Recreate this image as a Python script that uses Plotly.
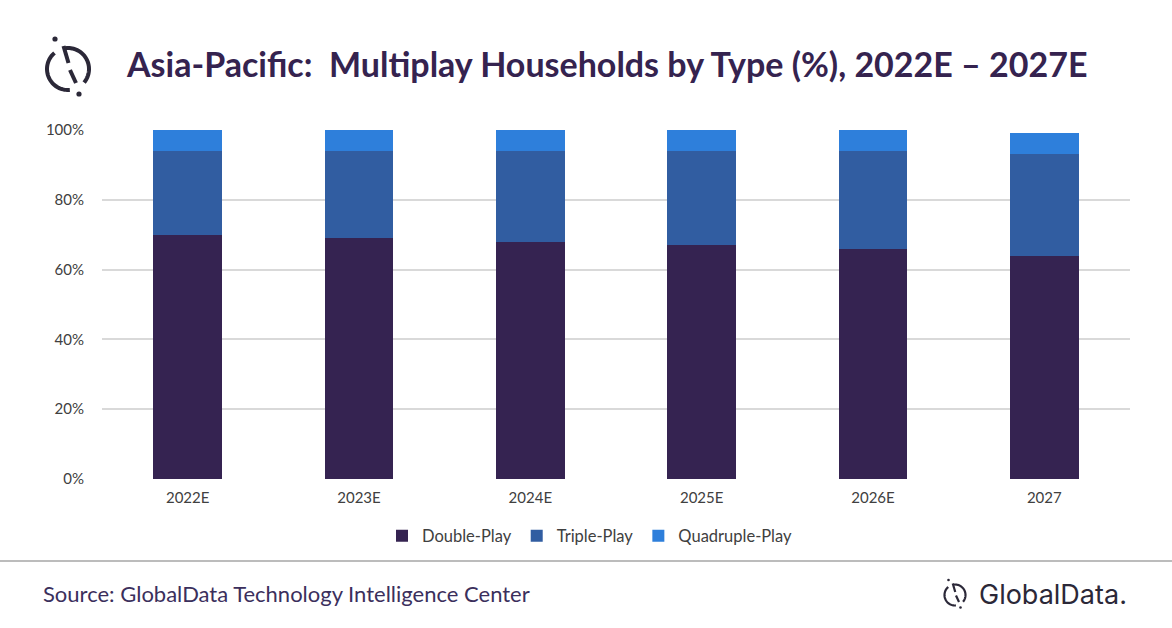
import numpy as np
import plotly.graph_objects as go

years = ["2022E", "2023E", "2024E", "2025E", "2026E", "2027"]
double_play = [70, 69, 68, 67, 66, 64]
triple_play = [24, 25, 26, 27, 28, 29]
quadruple_play = [6, 6, 6, 6, 6, 6]

W, H = 1172, 628
L, R, T, B = 102, 42, 130, 149
PW, PH = W - L - R, H - T - B


def px(x):
    return (x - L) / PW


def py(y):
    return (H - B - y) / PH


def poly(points):
    return "M " + " L ".join(f"{px(x):.5f},{py(y):.5f}" for x, y in points)


def arc(cx, cy, r, a0, a1, n=40):
    t = np.radians(np.linspace(a0, a1, n))
    return [(cx + r * np.cos(a), cy - r * np.sin(a)) for a in t]


def logo_shapes(cx, cy, s, lw, color):
    # GlobalData mark: broken ring, two inner strokes, two dots
    r = 21 * s
    parts = [
        arc(cx, cy, r, 100, -40),
        [(cx - 4.5 * s, cy - 23 * s), (cx + 0.5 * s, cy - 6 * s)],
        arc(cx, cy, r, 130, 275),
        [(cx + 2 * s, cy + 1 * s), (cx + 8 * s, cy + 14 * s)],
    ]
    shp = []
    for p in parts:
        shp.append(dict(type="path", xref="paper", yref="paper", path=poly(p),
                        line=dict(color=color, width=lw)))
    for dx, dy in [(-13 * s, -30 * s), (11 * s, 25 * s)]:
        d = 2.6 * s
        shp.append(dict(type="circle", xref="paper", yref="paper",
                        x0=px(cx + dx - d), x1=px(cx + dx + d),
                        y0=py(cy + dy + d), y1=py(cy + dy - d),
                        fillcolor=color, line=dict(width=0)))
    return shp


fig = go.Figure()
fig.add_bar(x=years, y=double_play, name="Double-Play", marker_color="#352351")
fig.add_bar(x=years, y=triple_play, name="Triple-Play", marker_color="#315DA1")
fig.add_bar(x=years, y=quadruple_play, name="Quadruple-Play", marker_color="#2E7FDB")
fig.update_traces(marker_line_width=0)

shapes = []
shapes += logo_shapes(68, 69, 1.0, 4, "#2B2838")
shapes += logo_shapes(955, 595, 0.5, 2.2, "#2B2838")
shapes.append(dict(type="line", xref="paper", yref="paper",
                   x0=px(0), x1=px(W), y0=py(561), y1=py(561),
                   line=dict(color="#A6A6A6", width=1.5)))

fig.update_layout(
    width=W, height=H,
    margin=dict(l=L, r=R, t=T, b=B),
    paper_bgcolor="#ffffff",
    plot_bgcolor="#ffffff",
    font=dict(family="Lato", size=15, color="#404040"),
    barmode="stack",
    bargap=0.6,
    showlegend=True,
    legend=dict(orientation="h", x=px(590), xanchor="center", y=py(536), yanchor="middle",
                font=dict(size=16.5, color="#404040"), traceorder="normal"),
    shapes=shapes,
    annotations=[
        dict(text="<b>Asia-Pacific:  Multiplay Households by Type (%), 2022E – 2027E</b>",
             xref="paper", yref="paper", x=px(124), y=py(64), xanchor="left", yanchor="middle",
             showarrow=False, font=dict(family="Lato", size=34, color="#35234F")),
        dict(text="Source: GlobalData Technology Intelligence Center",
             xref="paper", yref="paper", x=px(41), y=py(593), xanchor="left", yanchor="middle",
             showarrow=False, font=dict(family="Lato", size=22, color="#3B2F5C")),
        dict(text="GlobalData.",
             xref="paper", yref="paper", x=px(977), y=py(594), xanchor="left", yanchor="middle",
             showarrow=False, font=dict(family="Inter", size=27, color="#2B2838")),
    ],
)
fig.update_xaxes(showgrid=False, showline=False, ticks="outside", ticklen=5,
                 tickcolor="rgba(0,0,0,0)", tickfont=dict(size=15, color="#404040"))
fig.update_yaxes(range=[0, 100], dtick=20, ticksuffix="%", showgrid=True,
                 gridcolor="#D9D9D9", gridwidth=1.5, zeroline=False, showline=False,
                 ticks="outside", ticklen=14, tickcolor="rgba(0,0,0,0)",
                 tickfont=dict(size=15, color="#404040"))

fig.write_html("out.html", config={"displayModeBar": False},
               post_script="document.body.style.margin='0';")
